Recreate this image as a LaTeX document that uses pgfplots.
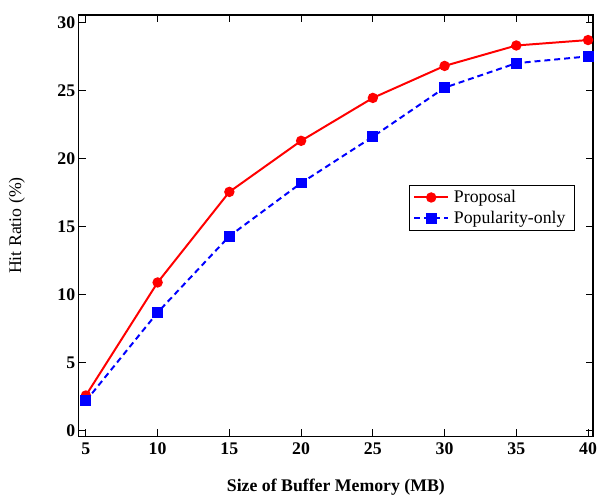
\documentclass[border=0pt]{standalone}
\usepackage{fontspec}
\setmainfont{Liberation Serif}
\usepackage{pgfplots}
\pgfplotsset{compat=1.18}
\begin{document}
\begin{tikzpicture}[x=1bp,y=1bp]
\begin{axis}[
  scale only axis,
  width=519.5bp, height=425.7bp,
  xmin=4.5, xmax=40.35,
  ymin=-0.4, ymax=30.55,
  xtick={5,10,...,40}, ytick={0,5,...,30},
  tick align=inside,
  major tick length=7bp,
  axis line style={line width=1.4bp},
  every tick/.style={black, line width=1bp},
  /pgf/number format/assume math mode=true,
  ticklabel style={font=\fontsize{18}{20}\selectfont\bfseries},
  xticklabel style={yshift=-3bp},
  xlabel={\textbf{Size of Buffer Memory (MB)}},
  ylabel={Hit Ratio (\%)},
  label style={font=\fontsize{18}{20}\selectfont},
  xlabel style={yshift=-18bp},
  ylabel style={yshift=26bp},
  legend style={at={(0.642,0.596)}, anchor=north west, draw=black, line width=1bp,
    font=\fontsize{18}{20}\selectfont, inner xsep=4bp, inner ysep=3bp, row sep=3bp,
    nodes={inner xsep=5bp}},
  legend cell align=left,
  legend image code/.code={\draw[mark repeat=2,mark phase=2] plot coordinates {(0bp,0bp) (17bp,0bp) (34bp,0bp)};},
]
\addplot[red, line width=2bp, mark=*, mark size=4.2bp, mark options={solid}]
 coordinates {(5,2.6) (10,10.9) (15,17.55) (20,21.3) (25,24.45) (30,26.8) (35,28.3) (40,28.7)};
\addlegendentry{Proposal}
\addplot[blue, line width=2bp, dash pattern=on 6bp off 4bp, mark=square*, mark size=4.5bp, mark options={solid}]
 coordinates {(5,2.2) (10,8.7) (15,14.3) (20,18.2) (25,21.6) (30,25.2) (35,27.0) (40,27.5)};
\addlegendentry{Popularity-only}
\end{axis}
\path (current axis.south west) ++(-79.5bp,-60.3bp) coordinate (bbA);
\path (current axis.north east) ++(8bp,15bp) coordinate (bbB);
\pgfresetboundingbox
\useasboundingbox (bbA) rectangle (bbB);
\end{tikzpicture}
\end{document}
